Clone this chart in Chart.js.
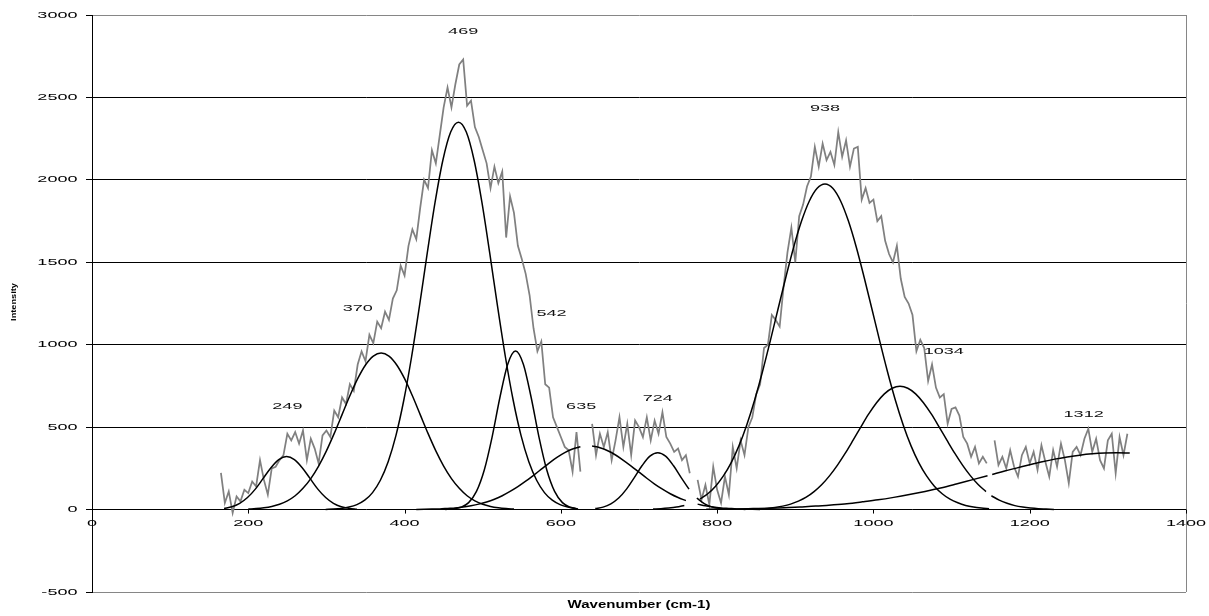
<!DOCTYPE html>
<html>
<head>
<meta charset="utf-8">
<title>Raman spectrum fit</title>
<script src="https://cdn.jsdelivr.net/npm/chart.js@4.4.1/dist/chart.umd.min.js"></script>
<style>
  html, body { margin: 0; padding: 0; background: #fff; }
  canvas { display: block; }
</style>
</head>
<body>
<canvas id="myChart" width="1209" height="616"></canvas>
<script>
// axes
const xTicks = [0, 200, 400, 600, 800, 1000, 1200, 1400]
const yTicks = [-500, 0, 500, 1000, 1500, 2000, 2500, 3000]

// measured spectrum, four windows, one value every 5 cm-1
const specStart = [165, 640, 775, 1155]
const specA = [
    222, 40, 110, -20, 80, 50, 120, 100, 170, 140,
    300, 180, 90, 250, 260, 300, 330, 460, 420, 470,
    400, 480, 300, 430, 370, 280, 450, 480, 440, 600,
    560, 680, 640, 760, 720, 880, 960, 900, 1060, 1010,
    1140, 1100, 1200, 1150, 1280, 1330, 1480, 1420, 1600, 1700,
    1640, 1830, 2000, 1950, 2180, 2100, 2270, 2440, 2560, 2440,
    2580, 2700, 2730, 2450, 2480, 2320, 2260, 2180, 2100, 1950,
    2080, 1980, 2050, 1650, 1900, 1800, 1600, 1520, 1430, 1300,
    1100, 960, 1020, 760, 740, 560, 500, 440, 380, 360,
    230, 470, 230
]
const specB = [
    520, 330, 460, 380, 470, 300, 420, 560, 380, 520,
    330, 540, 500, 440, 560, 420, 540, 460, 590, 440,
    400, 350, 370, 300, 330, 220
]
const specC = [
    180, 60, 150, 30, 260, 120, 40, 200, 90, 380,
    250, 420, 330, 500, 560, 700, 760, 980, 1000, 1180,
    1150, 1110, 1350, 1560, 1710, 1500, 1780, 1850, 1960, 2020,
    2200, 2080, 2220, 2120, 2170, 2090, 2290, 2140, 2240, 2080,
    2190, 2200, 1880, 1950, 1860, 1880, 1750, 1780, 1630, 1550,
    1500, 1600, 1400, 1290, 1250, 1180, 960, 1030, 980, 780,
    880, 740, 680, 700, 520, 610, 620, 570, 440, 400,
    320, 380, 280, 320, 280
]
const specD = [
    420, 270, 320, 250, 360, 260, 200, 330, 380, 280,
    350, 240, 390, 290, 200, 360, 260, 400, 300, 160,
    350, 380, 330, 430, 490, 350, 430, 300, 250, 420,
    460, 220, 440, 330, 460
]

// fitted bands: [first wavenumber, step, values] for each window
const band249 = [[169, 10, [7, 17, 38, 73, 124, 189, 254, 303, 322, 303, 254, 189, 124, 73, 38, 17, 7, 2]]]
const band370 = [[200, 10, [3, 6, 11, 19, 32, 53, 84, 129, 188, 264, 356, 462, 576, 690, 794, 877, 931, 950,
    931, 877, 794, 690, 576, 462, 356, 264, 188, 129, 84, 53, 32, 19, 11, 6, 3]]]
const band469 = [[299, 10, [1, 3, 7, 15, 30, 57, 103, 178, 290, 450, 663, 927, 1232, 1555, 1863, 2119, 2290, 2350,
    2290, 2119, 1863, 1555, 1232, 927, 663, 450, 290, 178, 103, 57, 30, 15, 7]]]
const band542 = [[452, 10, [1, 4, 14, 42, 110, 240, 440, 680, 882, 962, 882, 680, 440, 240, 110, 42, 14, 4]]]
const band635 = [
    [415, 10, [1, 2, 3, 4, 7, 10, 15, 23, 33, 46, 63, 84, 110, 139, 172, 208, 245, 282, 316, 345, 367, 381]],
    [640, 10, [385, 375, 357, 331, 299, 264, 227, 190, 155, 124, 96, 73, 54]],
    [775, 10, [33, 23, 15, 10, 7, 4, 3, 2, 1]]
]
const band724 = [
    [644, 10, [6, 15, 35, 70, 124, 194, 267, 324, 345, 324, 267, 194, 124]],
    [774, 10, [70, 35, 15, 6, 2]]
]
const band938 = [
    [718, 10, [3, 5, 9, 15, 25]],
    [778, 10, [63, 96, 142, 204, 285, 388, 515, 665, 836, 1023, 1218, 1411, 1593, 1750, 1872, 1949, 1975,
        1949, 1872, 1750, 1593, 1411, 1218, 1023, 836, 665, 515, 388, 285, 204, 142, 96, 63, 41, 25, 15, 9, 5]]
]
const band1034 = [
    [834, 10, [1, 2, 4, 7, 13, 21, 33, 51, 75, 109, 152, 206, 270, 342, 421, 502, 580, 648, 702, 736, 748,
        736, 702, 648, 580, 502, 421, 342, 270, 206, 152, 109]],
    [1151, 10, [84, 57, 38, 24, 15, 9, 5, 3, 1]]
]
const band1312 = [
    [786, 20, [2, 3, 4, 6, 8, 11, 16, 21, 28, 36, 47, 59, 74, 91, 110, 131, 155, 180, 205]],
    [1152, 16, [213, 234, 253, 272, 290, 306, 319, 330, 338, 343, 345, 343]]
]

// peak labels (band centre) and where they sit
const bandCentres = [249, 370, 469, 542, 635, 724, 938, 1034, 1312]
const labelX = [250, 340, 475, 588, 626, 724, 938, 1090, 1269]
const labelY = [628, 1223, 2900, 1192, 628, 675, 2432, 962, 578]

// turn runs into {x, y} points, with a null between windows so the line breaks
function toPoints(runs) {
    const pts = []
    let lastX = null
    runs.forEach(([from, step, ys]) => {
        if (lastX !== null) pts.push({ x: (lastX + from) / 2, y: null })
        ys.forEach((v, i) => pts.push({ x: from + i * step, y: v }))
        lastX = from + (ys.length - 1) * step
    })
    return pts
}

const spectrum = toPoints([
    [specStart[0], 5, specA],
    [specStart[1], 5, specB],
    [specStart[2], 5, specC],
    [specStart[3], 5, specD]
])

const bands = [band249, band370, band469, band542, band635, band724, band938, band1034, band1312]

const datasets = bands.map((b, i) => ({
    label: String(bandCentres[i]),
    data: toPoints(b),
    borderColor: '#000000',
    borderWidth: 1.5,
    pointRadius: 0,
    fill: false,
    cubicInterpolationMode: 'monotone',
    order: 0
}))
datasets.push({
    label: 'Spectrum',
    data: spectrum,
    borderColor: '#808080',
    borderWidth: 1.75,
    pointRadius: 0,
    fill: false,
    tension: 0,
    order: 1
})

// Excel style text is wide and flat, so squeeze it through a scale
function wideText(ctx, text, px, py, sx, align) {
    ctx.save()
    ctx.translate(px, py)
    ctx.scale(sx, 1)
    ctx.textAlign = align
    ctx.textBaseline = 'middle'
    ctx.fillText(text, 0, 0)
    ctx.restore()
}

const axisText = {
    id: 'axisText',
    afterDraw(chart) {
        const { ctx, chartArea: area, scales: { x, y } } = chart
        const y0 = y.getPixelForValue(0)
        ctx.save()

        // right side of the plot frame
        ctx.strokeStyle = '#868686'
        ctx.lineWidth = 1
        ctx.beginPath()
        ctx.moveTo(Math.round(area.right) + 0.5, area.top)
        ctx.lineTo(Math.round(area.right) + 0.5, area.bottom)
        ctx.stroke()

        // tick marks under the zero line
        ctx.strokeStyle = '#000000'
        ctx.beginPath()
        xTicks.forEach(v => {
            const px = Math.round(x.getPixelForValue(v)) + 0.5
            ctx.moveTo(px, y0)
            ctx.lineTo(px, y0 + 4)
        })
        ctx.stroke()

        ctx.fillStyle = '#000000'
        ctx.font = '9.5px "Liberation Sans", Arial, sans-serif'
        yTicks.forEach(v => wideText(ctx, String(v), 77.5, y.getPixelForValue(v), 1.9, 'right'))
        xTicks.forEach(v => wideText(ctx, String(v), x.getPixelForValue(v), y0 + 14, 1.9, 'center'))

        ctx.fillStyle = '#111111'
        bandCentres.forEach((c, i) => {
            wideText(ctx, String(c), x.getPixelForValue(labelX[i]), y.getPixelForValue(labelY[i]), 1.9, 'center')
        })

        // axis titles
        ctx.fillStyle = '#000000'
        ctx.font = 'bold 10px "Liberation Sans", Arial, sans-serif'
        wideText(ctx, 'Wavenumber (cm-1)', (area.left + area.right) / 2, 605, 1.5, 'center')

        ctx.save()
        ctx.translate(14, 302)
        ctx.rotate(-Math.PI / 2)
        ctx.font = 'bold 8px "Liberation Sans", Arial, sans-serif'
        wideText(ctx, 'Intensity', 0, 0, 1.15, 'center')
        ctx.restore()

        ctx.restore()
    }
}

const ctx = document.getElementById('myChart')
const chart = new Chart(ctx, {
    type: 'line',
    data: { datasets: datasets },
    options: {
        responsive: false,
        animation: false,
        devicePixelRatio: 1,
        spanGaps: false,
        layout: { padding: { left: 0, top: 15, right: 23, bottom: 24 } },
        plugins: {
            legend: { display: false },
            tooltip: { enabled: false }
        },
        scales: {
            x: {
                type: 'linear',
                min: 0,
                max: 1400,
                display: false
            },
            y: {
                type: 'linear',
                min: -500,
                max: 3000,
                ticks: { stepSize: 500, display: false },
                grid: {
                    color: c => (c.tick && (c.tick.value === 3000 || c.tick.value === -500)) ? '#868686' : '#000000',
                    lineWidth: 1,
                    tickLength: 6,
                    tickColor: '#000000'
                },
                border: { color: '#000000', width: 1 },
                afterFit(scale) {
                    scale.width = 92
                }
            }
        }
    },
    plugins: [axisText]
})
</script>
</body>
</html>
